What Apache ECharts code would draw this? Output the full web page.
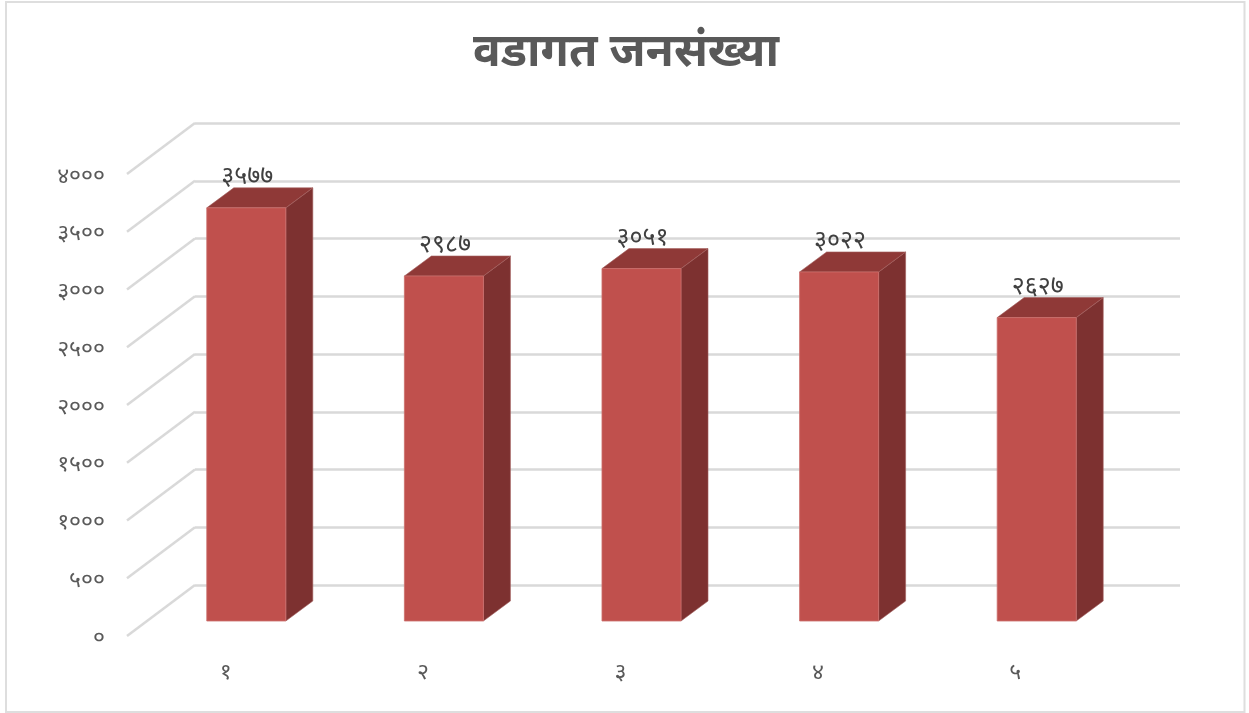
<!DOCTYPE html>
<html>
<head>
<meta charset="utf-8">
<script src="https://cdn.jsdelivr.net/npm/echarts@6/dist/echarts.min.js"></script>
<style>html,body{margin:0;padding:0;background:#fff}#c{width:1249px;height:713px}</style>
</head>
<body>
<div id="c"></div>
<script>
const titleText = 'वडागत जनसंख्या';
const categories = ['१', '२', '३', '४', '५'];
const populationValues = [3577, 2987, 3051, 3022, 2627];
const populationLabels = ['३५७७', '२९८७', '३०५१', '३०२२', '२६२७'];
const yTickValues = [0, 500, 1000, 1500, 2000, 2500, 3000, 3500, 4000];
const yTickLabels = ['०', '५००', '१०००', '१५००', '२०००', '२५००', '३०००', '३५००', '४०००'];

const FONT = '"Noto Sans", "Noto Sans Devanagari", "Lohit Devanagari", sans-serif';
const WALL_DX = 68, WALL_DY = 51;   // depth of the floor, front edge to back wall
const BAR_DX = 27, BAR_DY = 20;     // depth of one bar
const BAR_WIDTH_RATIO = 0.4;

const chart = echarts.init(document.getElementById('c'));

function renderBar(params, api) {
  const i = api.value(0), v = api.value(1);
  const base = api.coord([i, 0]), top = api.coord([i, v]);
  const w = api.size([1, 0])[0] * BAR_WIDTH_RATIO;
  const l = base[0] - w / 2, r = base[0] + w / 2, b = base[1], t = top[1];
  return {
    type: 'group',
    children: [
      { type: 'polygon', shape: { points: [[r, t], [r + BAR_DX, t - BAR_DY], [r + BAR_DX, b - BAR_DY], [r, b]] },
        style: { fill: '#7D3130', stroke: '#A25F5E', lineWidth: 0.6 } },
      { type: 'polygon', shape: { points: [[l, t], [l + BAR_DX, t - BAR_DY], [r + BAR_DX, t - BAR_DY], [r, t]] },
        style: { fill: '#8F3937', stroke: '#A25F5E', lineWidth: 0.6 } },
      { type: 'rect', shape: { x: l, y: t, width: w, height: b - t },
        style: { fill: '#C0504D', stroke: '#CB6F6C', lineWidth: 0.8 } },
      { type: 'text', x: base[0] + 1, y: t - BAR_DY - 11,
        style: { text: populationLabels[params.dataIndex], fill: '#404040', font: '25px ' + FONT,
                 align: 'center', verticalAlign: 'middle' } }
    ]
  };
}

function renderWallEdge(params, api) {
  const p = api.coord([0, api.value(0)]);
  const x = params.coordSys.x;
  return {
    type: 'line',
    shape: { x1: x, y1: p[1], x2: x - WALL_DX, y2: p[1] + WALL_DY },
    style: { stroke: '#D9D9D9', lineWidth: 2.5 }
  };
}

const hiddenCat = { type: 'category', data: categories, axisLine: { show: false }, axisTick: { show: false }, axisLabel: { show: false } };
const hiddenVal = { type: 'value', min: 0, max: 4000, interval: 500, axisLine: { show: false }, axisTick: { show: false }, axisLabel: { show: false }, splitLine: { show: false } };

chart.setOption({
  animation: false,
  backgroundColor: '#fff',
  title: {
    text: titleText, left: 621, top: 25, textAlign: 'center',
    textStyle: { fontFamily: FONT, fontSize: 46, fontWeight: 'bold', color: '#595959' }
  },
  graphic: [{
    type: 'rect', silent: true, z: -1,
    shape: { x: 6, y: 2, width: 1238.5, height: 710 },
    style: { fill: 'none', stroke: '#DEDEDE', lineWidth: 2 }
  }],
  grid: [
    { left: 195, width: 985, top: 123, height: 462 },   // back wall
    { left: 127, width: 987, top: 176, height: 462 },   // front edge of the floor (label plane)
    { left: 147.5, width: 988, top: 159, height: 462 }  // front faces of the bars
  ],
  xAxis: [
    Object.assign({ gridIndex: 0 }, hiddenCat),
    { gridIndex: 1, type: 'category', data: categories, axisLine: { show: false }, axisTick: { show: false },
      axisLabel: { margin: 23, fontFamily: FONT, fontSize: 23, color: '#595959' } },
    Object.assign({ gridIndex: 2 }, hiddenCat)
  ],
  yAxis: [
    Object.assign({}, hiddenVal, { gridIndex: 0, splitLine: { show: true, lineStyle: { color: '#D9D9D9', width: 2.5 } } }),
    Object.assign({}, hiddenVal, { gridIndex: 1, axisLabel: { show: true, margin: 22, fontFamily: FONT, fontSize: 23, color: '#595959',
      formatter: v => yTickLabels[yTickValues.indexOf(v)] } }),
    Object.assign({ gridIndex: 2 }, hiddenVal)
  ],
  series: [
    { type: 'custom', xAxisIndex: 0, yAxisIndex: 0, renderItem: renderWallEdge, silent: true, clip: false,
      data: yTickValues.map(v => [v]), encode: { y: 0 }, z: 1 },
    { type: 'custom', xAxisIndex: 2, yAxisIndex: 2, renderItem: renderBar, silent: true, clip: false,
      data: populationValues.map((v, i) => [i, v]), encode: { x: 0, y: 1 }, z: 2 }
  ]
});
</script>
</body>
</html>
